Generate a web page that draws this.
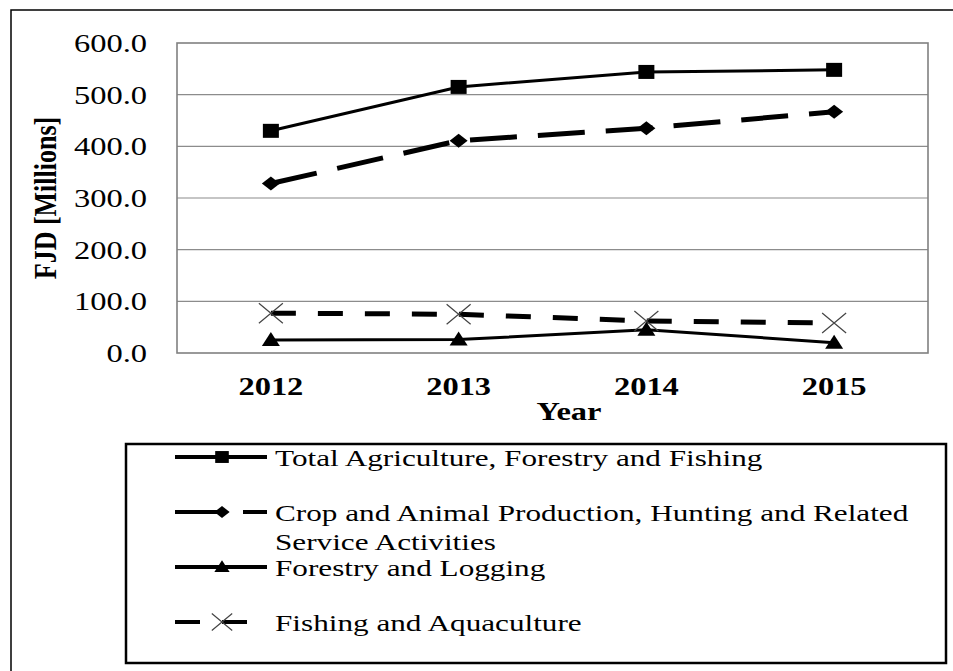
<!DOCTYPE html>
<html>
<head>
<meta charset="utf-8">
<script src="https://cdn.jsdelivr.net/npm/d3@7"></script>
<style>
  body { margin: 0; background: #fff; }
  svg { display: block; }
</style>
</head>
<body>
<div id="chart"></div>
<script>
// Values
const years = ["2012", "2013", "2014", "2015"];
const totalAgri = [430, 515, 544, 548];
const cropAnimal = [328, 411, 435, 467];
const forestry = [25, 26, 45, 20];
const fishing = [77, 75, 62, 58];
const yTicks = [0, 100, 200, 300, 400, 500, 600];
const seriesNames = [
  "Total Agriculture, Forestry and Fishing",
  "Crop and Animal Production, Hunting and Related|Service Activities",
  "Forestry and Logging",
  "Fishing and Aquaculture",
];

const width = 953;
const height = 671;
const plot = { left: 177, right: 928, top: 43, bottom: 353 };
const stretch = 1.25; // text in the picture is widened horizontally
const legendStretch = 1.3;
const serif = "'Liberation Serif', 'Times New Roman', serif";

const series = [
  { name: seriesNames[0], values: totalAgri, dash: null, width: 3, marker: "square" },
  { name: seriesNames[1], values: cropAnimal, dash: "47,21", width: 5, marker: "diamond" },
  { name: seriesNames[2], values: forestry, dash: null, width: 3, marker: "triangle" },
  { name: seriesNames[3], values: fishing, dash: "25,22", width: 5, marker: "cross" },
];

const svg = d3
  .select("#chart")
  .append("svg")
  .attr("width", width)
  .attr("height", height);

// outer frame, runs off the right and bottom edges
svg
  .append("rect")
  .attr("x", 11)
  .attr("y", 10)
  .attr("width", width + 20)
  .attr("height", height + 20)
  .attr("fill", "none")
  .attr("stroke", "#000")
  .attr("stroke-width", 1.5);

const xScale = d3
  .scalePoint()
  .domain(years)
  .range([plot.left, plot.right])
  .padding(0.5);

const yScale = d3
  .scaleLinear()
  .domain([0, 600])
  .range([plot.bottom, plot.top]);

// Grid

svg
  .append("g")
  .selectAll("line")
  .data(yTicks.filter((d) => d > 0 && d < 600))
  .enter()
  .append("line")
  .attr("x1", plot.left)
  .attr("x2", plot.right)
  .attr("y1", (d) => yScale(d))
  .attr("y2", (d) => yScale(d))
  .attr("stroke", "#8c8c8c")
  .attr("stroke-width", 1.2);

svg
  .append("rect")
  .attr("x", plot.left)
  .attr("y", plot.top)
  .attr("width", plot.right - plot.left)
  .attr("height", plot.bottom - plot.top)
  .attr("fill", "none")
  .attr("stroke", "#808080")
  .attr("stroke-width", 1.6);

// Axis labels

function stretchedText(g, x, y, rotate, k = stretch) {
  return g
    .append("text")
    .attr(
      "transform",
      `translate(${x},${y}) scale(${k},1)` + (rotate ? ` rotate(${rotate})` : "")
    )
    .attr("font-family", serif)
    .attr("fill", "#000");
}

const yAxis = svg.append("g");
yTicks.forEach((t) => {
  stretchedText(yAxis, 147, yScale(t) + 9)
    .attr("font-size", 26)
    .attr("text-anchor", "end")
    .text(d3.format(".1f")(t));
});

const xAxis = svg.append("g");
years.forEach((yr) => {
  stretchedText(xAxis, xScale(yr), 395)
    .attr("font-size", 26)
    .attr("font-weight", "bold")
    .attr("text-anchor", "middle")
    .text(yr);
});

stretchedText(svg, 569, 420)
  .attr("font-size", 26)
  .attr("font-weight", "bold")
  .attr("text-anchor", "middle")
  .text("Year");

stretchedText(svg, 56, 198, -90)
  .attr("font-size", 26)
  .attr("font-weight", "bold")
  .attr("text-anchor", "middle")
  .text("FJD [Millions]");

// Markers

function drawMarker(g, type, x, y, k) {
  if (type === "square") {
    g.append("rect")
      .attr("x", x - 8 * k)
      .attr("y", y - 7 * k)
      .attr("width", 16 * k)
      .attr("height", 14 * k)
      .attr("fill", "#000");
  } else if (type === "diamond") {
    g.append("path")
      .attr("d", `M${x - 9 * k},${y}L${x},${y - 7 * k}L${x + 9 * k},${y}L${x},${y + 7 * k}Z`)
      .attr("fill", "#000");
  } else if (type === "triangle") {
    g.append("path")
      .attr("d", `M${x - 9 * k},${y + 6 * k}L${x},${y - 8 * k}L${x + 9 * k},${y + 6 * k}Z`)
      .attr("fill", "#000");
  } else {
    g.append("path")
      .attr(
        "d",
        `M${x - 12 * k},${y - 10 * k}L${x + 12 * k},${y + 10 * k}M${x - 12 * k},${y + 10 * k}L${x + 12 * k},${y - 10 * k}`
      )
      .attr("stroke", "#444")
      .attr("stroke-width", 1.2)
      .attr("fill", "none");
  }
}

// Lines

const line = d3
  .line()
  .x((d, i) => xScale(years[i]))
  .y((d) => yScale(d));

series.forEach((s) => {
  const g = svg.append("g");
  g.append("path")
    .datum(s.values)
    .attr("fill", "none")
    .attr("stroke", "#000")
    .attr("stroke-width", s.width)
    .attr("stroke-dasharray", s.dash)
    .attr("d", line);
  s.values.forEach((v, i) => drawMarker(g, s.marker, xScale(years[i]), yScale(v), 1));
});

// Legend

const legend = svg.append("g");
legend
  .append("rect")
  .attr("x", 126)
  .attr("y", 444)
  .attr("width", 820)
  .attr("height", 219)
  .attr("fill", "#fff")
  .attr("stroke", "#000")
  .attr("stroke-width", 2.5);

const rowY = [457, 512, 567, 622];

series.forEach((s, i) => {
  const y = rowY[i];
  legend
    .append("line")
    .attr("x1", 175)
    .attr("x2", 267)
    .attr("y1", y)
    .attr("y2", y)
    .attr("stroke", "#000")
    .attr("stroke-width", 4)
    .attr("stroke-dasharray", s.dash);
  drawMarker(legend, s.marker, 222, y, 0.85);

  s.name.split("|").forEach((part, j) => {
    stretchedText(legend, 275, y + 9 + j * 29, 0, legendStretch)
      .attr("font-size", 24)
      .text(part);
  });
});
</script>
</body>
</html>
